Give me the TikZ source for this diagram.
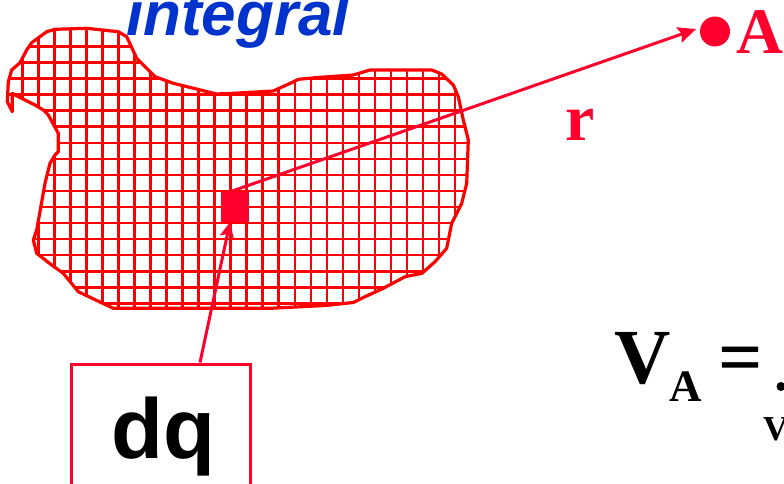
\documentclass[tikz,border=0pt]{standalone}
\usepackage{fontspec}
\setmainfont{Liberation Serif}
\newfontfamily\arialf{Liberation Sans}
\usetikzlibrary{arrows.meta,calc}
\definecolor{gridred}{RGB}{255,0,0}
\definecolor{crim}{RGB}{255,0,45}
\definecolor{iblue}{RGB}{0,51,204}
\begin{document}
\begin{tikzpicture}[x=1pt,y=-1pt,
  gridl/.style={draw=gridred,line width=2.6pt},
  outl/.style={draw=gridred,line width=3.2pt,line join=round},
  conn/.style={draw=crim,line width=3pt,-{Stealth[length=18pt,width=16pt,inset=3pt]}},
  lbl/.style={inner sep=0pt,anchor=base west},
]
\useasboundingbox (0,0) rectangle (784,483);
\def\blobpath{(12.3,93.3) -- (12.3,111.7) -- (7.3,101.7) -- (8.3,81.7) -- (11.7,70) -- (20,62.7) -- (26.7,50) -- (31.7,42.7) -- (46.7,31.7) -- (55,29.3) -- (86.7,28.3) -- (118.3,31.7) -- (126.7,36.7) -- (136.7,58.3) -- (155,76.7) -- (173.3,83.3) -- (216.7,94) -- (233.3,93.3) -- (273.3,91) -- (293,82) -- (298.3,79.3) -- (320,77.3) -- (353.3,75) -- (370,70) -- (431.7,70) -- (441.7,74) -- (453.3,85) -- (458.3,96.7) -- (463.3,120) -- (468.3,140) -- (466.7,183.3) -- (461.7,203.3) -- (451.7,223.3) -- (446.7,248.3) -- (435,261.7) -- (422,273.3) -- (405,276.7) -- (383.3,288.3) -- (365,296.7) -- (353.3,302.5) -- (325,305.5) -- (270,308.3) -- (113.3,308.3) -- (78.3,291.7) -- (63.3,273.3) -- (51.7,265) -- (36.7,253.3) -- (33.3,240) -- (36.7,230) -- (41.7,202) -- (45,183.3) -- (50,163.3) -- (55,155) -- (58.3,151.7) -- (58.3,133.3) -- (48.3,115) -- (43.3,110) -- (35,105) -- (15,95) -- cycle}
% grid inside the charge region
\begin{scope}
  \clip \blobpath;
  \foreach \i in {0,...,28} \draw[gridl] ({22.3+16.03*\i},20) -- ++(0,300);
  \foreach \j in {0,...,17} \draw[gridl] (0,{46.5+16.05*\j}) -- ++(480,0);
\end{scope}
\draw[outl] \blobpath;
% title
\node[lbl,text=iblue,font=\arialf\bfseries\itshape\fontsize{62}{70}\selectfont] (title) at (126,35) {integral};
% charge element
\node[fill=crim,draw=none,minimum width=28pt,minimum height=30pt,inner sep=0pt] (elem) at (235,207) {};
% point A
\node[circle,fill=crim,draw=none,minimum size=30pt,inner sep=0pt] (dotA) at (715,31.5) {};
\node[lbl,text=crim,font=\bfseries\fontsize{65}{70}\selectfont] (labA) at (736,53) {A};
% r vector
\draw[conn,shorten >=4.5pt] ($(elem.north)+(-5,0)$) -- (dotA.165);
\node[lbl,text=crim,font=\bfseries\fontsize{66}{70}\selectfont] (labr) at (565,140) {r};
% dq box
\node[draw=crim,line width=3pt,minimum width=179pt,minimum height=160pt,inner sep=0pt] (dqbox) at (161.4,444) {};
\node[lbl,font=\arialf\bfseries\fontsize{85}{90}\selectfont] (dqtext) at (111,458.3) {dq};
\draw[conn,-{Stealth[length=15pt,width=14pt,inset=3pt]}] ($(dqbox.north)+(38.6,0)$) -- ($(elem.south)+(-5,0)$);
% formula
\node[lbl,font=\bfseries\fontsize{78}{80}\selectfont] (fV) at (614,383.3) {V};
\node[lbl,font=\bfseries\fontsize{45}{50}\selectfont] (fA) at (669,401.7) {A};
\node[lbl,font=\bfseries\fontsize{78}{80}\selectfont] (feq) at (718,383.3) {=};
\fill (781,386.5) circle (4.5pt);
\node[lbl,font=\bfseries\fontsize{35}{40}\selectfont] (fvol) at (763,440.7) {V};
\end{tikzpicture}
\end{document}
